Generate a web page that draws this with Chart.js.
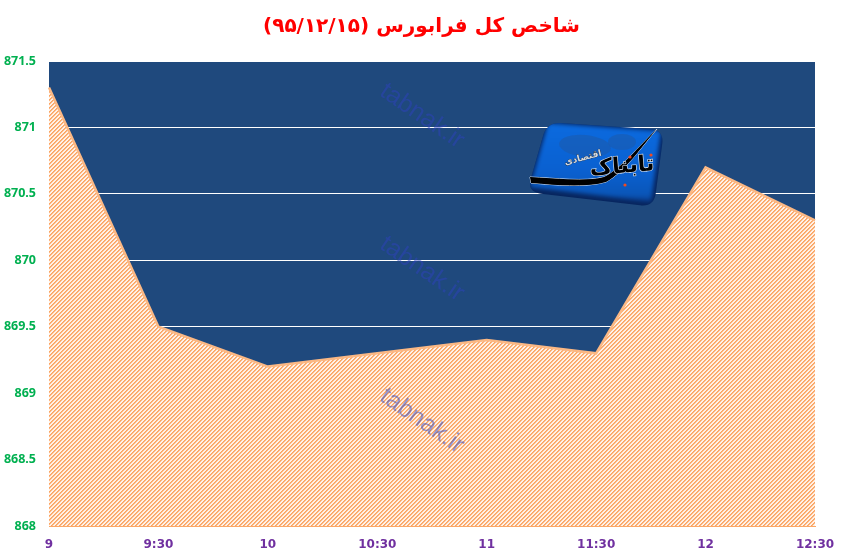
<!DOCTYPE html>
<html lang="fa">
<head>
<meta charset="utf-8">
<style>html,body{margin:0;padding:0;background:#fff}#c{display:block}</style>
<script src="https://cdn.jsdelivr.net/npm/chart.js@4"></script>
</head>
<body>
<div style="width:841px;height:556px"><canvas id="c" width="841" height="556" dir="rtl"></canvas></div>
<script>
const titleText = 'شاخص کل فرابورس (۹۵/۱۲/۱۵)';
const categories = ['9','9:30','10','10:30','11','11:30','12','12:30'];
const indexValues = [871.3,869.5,869.2,869.3,869.4,869.3,870.7,870.3];
const yTickValues = [868,868.5,869,869.5,870,870.5,871,871.5];
const watermarkText = 'tabnak.ir';
const logoMain = 'تابناک';
const logoSub = 'اقتصادی';

function makePattern(ctx){
  const n = 4;
  const p = document.createElement('canvas'); p.width = n; p.height = n;
  const g = p.getContext('2d');
  const shades = ['#FBA560','#FCB583','#FFF1E6','#FFF1E6'];
  for(let y=0;y<n;y++){
    for(let x=0;x<n;x++){
      g.fillStyle = shades[(x+y)%n];
      g.fillRect(x,y,1,1);
    }
  }
  return ctx.createPattern(p,'repeat');
}

const background = {
  id:'background',
  beforeDraw(chart){
    const {ctx,chartArea:a} = chart;
    if(chart.titleBlock){ chart.titleBlock.left = 28; }
    ctx.save(); ctx.fillStyle='#1F497D';
    ctx.fillRect(a.left,a.top,a.right-a.left,a.bottom-a.top); ctx.restore();
  }
};

function drawLogo(ctx){
  const pts=[[547,122],[664,130],[654,207],[527,192]];
  const r=14;
  function outline(){
    ctx.beginPath();
    for(let i=0;i<4;i++){
      const p=pts[i],n=pts[(i+1)%4],pr=pts[(i+3)%4];
      const d1=Math.hypot(p[0]-pr[0],p[1]-pr[1]),d2=Math.hypot(n[0]-p[0],n[1]-p[1]);
      const a=[p[0]+(pr[0]-p[0])*r/d1,p[1]+(pr[1]-p[1])*r/d1];
      const b=[p[0]+(n[0]-p[0])*r/d2,p[1]+(n[1]-p[1])*r/d2];
      if(i===0)ctx.moveTo(a[0],a[1]);else ctx.lineTo(a[0],a[1]);
      ctx.quadraticCurveTo(p[0],p[1],b[0],b[1]);
    }
    ctx.closePath();
  }
  ctx.save();
  ctx.direction='rtl';
  outline();
  ctx.fillStyle='#08265F'; ctx.fill();
  ctx.save();
  outline(); ctx.clip();
  const g=ctx.createLinearGradient(590,122,590,205);
  g.addColorStop(0,'#0B6BE0'); g.addColorStop(.6,'#0A60D0'); g.addColorStop(.88,'#0A56B8'); g.addColorStop(1,'#0A2C70');
  ctx.beginPath();
  ctx.moveTo(548,123);ctx.lineTo(661,131);ctx.lineTo(651,202);ctx.lineTo(530,187);ctx.closePath();
  ctx.fillStyle=g; ctx.filter='blur(2px)'; ctx.fill(); ctx.filter='none';
  ctx.fillStyle='rgba(30,90,170,.55)';
  ctx.beginPath();ctx.ellipse(585,146,26,11,.1,0,Math.PI*2);ctx.fill();
  ctx.beginPath();ctx.ellipse(622,142,14,8,0,0,Math.PI*2);ctx.fill();
  ctx.restore();
  // tail of the logotype
  ctx.beginPath();
  ctx.moveTo(530,177);
  ctx.bezierCurveTo(555,178,585,182,604,177);
  ctx.bezierCurveTo(620,170,640,145,657,129);
  ctx.bezierCurveTo(642,146,625,172,606,182);
  ctx.bezierCurveTo(585,188,555,185,531,183);
  ctx.closePath();
  ctx.strokeStyle='#DCE6F2'; ctx.lineWidth=1; ctx.stroke();
  ctx.fillStyle='#000'; ctx.fill();
  // logotype
  ctx.save();
  ctx.translate(622,167); ctx.rotate(-0.08);
  ctx.font='bold 22px "DejaVu Sans",sans-serif';
  ctx.textAlign='center'; ctx.textBaseline='middle';
  ctx.strokeStyle='#DCE6F2'; ctx.lineWidth=1.2; ctx.strokeText(logoMain,0,0);
  ctx.fillStyle='#000'; ctx.fillText(logoMain,0,0);
  ctx.restore();
  ctx.fillStyle='#F04A20';
  [[625,185],[651,155],[630,157]].forEach(([x,y])=>{ctx.beginPath();ctx.arc(x,y,1.6,0,Math.PI*2);ctx.fill();});
  ctx.save();
  ctx.translate(583,158); ctx.rotate(-0.25);
  ctx.font='bold 9px "DejaVu Sans",sans-serif';
  ctx.textAlign='center'; ctx.textBaseline='middle';
  ctx.fillStyle='#D5D8DC'; ctx.strokeStyle='#222'; ctx.lineWidth=.5;
  ctx.strokeText(logoSub,0,0); ctx.fillText(logoSub,0,0);
  ctx.restore();
  ctx.restore();
}

const overlay = {
  id:'overlay',
  afterDatasetsDraw(chart){
    const {ctx} = chart;
    ctx.save();
    ctx.direction='ltr';
    ctx.font='25px "Liberation Sans",Arial,sans-serif';
    ctx.textAlign='center'; ctx.textBaseline='middle';
    ctx.fillStyle='rgba(45,65,190,0.5)';
    [[422,116],[422,269],[422,421]].forEach(([x,y])=>{
      ctx.save(); ctx.translate(x,y); ctx.rotate(0.6);
      ctx.fillText(watermarkText,0,0); ctx.restore();
    });
    ctx.restore();
    drawLogo(ctx);
  }
};

const cv = document.getElementById('c');
const ctx2 = cv.getContext('2d');
new Chart(cv,{
  type:'line',
  data:{labels:categories,datasets:[{
    data:indexValues,
    borderColor:'#FBB884',borderWidth:2.5,
    backgroundColor:makePattern(ctx2),
    fill:'start',tension:0,pointRadius:0,clip:false
  }]},
  options:{
    responsive:false,animation:false,
    layout:{padding:{left:0,right:26,top:0,bottom:0}},
    plugins:{
      legend:{display:false},tooltip:{enabled:false},
      title:{display:true,text:titleText,color:'#FF0000',
        font:{family:'"DejaVu Sans",sans-serif',size:20,weight:'bold'},
        padding:{top:15,bottom:22}}
    },
    scales:{
      x:{
        type:'category',offset:false,
        grid:{display:false,drawTicks:false},
        border:{display:true,color:'#FBA765',width:1},
        afterFit(s){s.height=30;s.paddingRight=0;},
        ticks:{color:'#7030A0',maxRotation:0,autoSkip:false,padding:12,
          font:{family:'"DejaVu Sans",sans-serif',size:12,weight:'bold'}}
      },
      y:{
        type:'linear',min:868,max:871.5,
        afterFit(s){s.width=49;},
        afterBuildTicks(s){s.ticks=yTickValues.map(v=>({value:v}));},
        grid:{color:'#FFFFFF',lineWidth:1,drawTicks:false},
        border:{display:false},
        ticks:{color:'#00B050',padding:13,callback:v=>String(v),
          font:{family:'"Noto Sans",sans-serif',size:12.5,weight:'bold'}}
      }
    }
  },
  plugins:[background,overlay]
});
</script>
</body>
</html>
